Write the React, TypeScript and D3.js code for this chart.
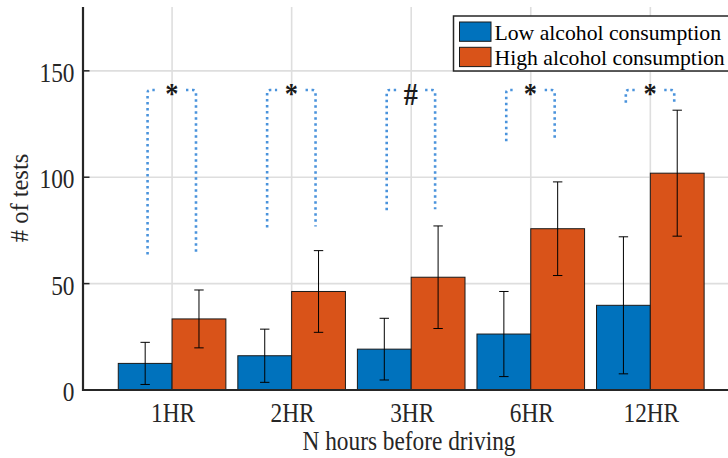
import React from "react";
import * as d3 from "d3";

const categories = ["1HR", "2HR", "3HR", "6HR", "12HR"];
const lowMeans = [12.5, 16.1, 19.2, 26.3, 39.8];
const lowErr = [9.9, 12.5, 14.5, 20.0, 32.2];
const highMeans = [33.4, 46.3, 53.0, 75.8, 101.9];
const highErr = [13.6, 19.2, 24.1, 22.0, 29.6];
const bracketLowEnd = [63.7, 76.4, 84.5, 116.9, 135.0];
const bracketHighEnd = [64.0, 76.8, 85.0, 117.2, 134.0];
const bracketTop = 141;
const sigMarks = ["*", "*", "#", "*", "*"];
const yTicks = [0, 50, 100, 150];
const seriesNames = ["Low alcohol consumption", "High alcohol consumption"];

const W = 728;
const H = 458;
const BLUE = "#0072BD";
const ORANGE = "#D95319";
const AX = "#262626";
const FONT = "'Liberation Serif', 'Times New Roman', serif";

export default function App() {
  const x = d3.scaleLinear().domain([0.255, 5.75]).range([83, 740]);
  const y = d3.scaleLinear().domain([0, 180]).range([390, 7]);
  const bw = 0.45;
  const sx = 0.88;
  const fs = 26.5;

  const bars: JSX.Element[] = [];
  const errs: JSX.Element[] = [];
  categories.forEach((c, i) => {
    const cx = i + 1;
    const series = [
      { m: lowMeans[i], e: lowErr[i], x0: cx - bw, col: BLUE },
      { m: highMeans[i], e: highErr[i], x0: cx, col: ORANGE },
    ];
    series.forEach((s, j) => {
      bars.push(
        <rect
          key={`b${i}-${j}`}
          x={x(s.x0)}
          y={y(s.m)}
          width={x(s.x0 + bw) - x(s.x0)}
          height={y(0) - y(s.m)}
          fill={s.col}
          stroke="#1a1a1a"
          strokeWidth={1}
        />
      );
      const ex = x(s.x0 + bw / 2);
      const top = y(s.m + s.e);
      const bot = y(s.m - s.e);
      errs.push(
        <g key={`e${i}-${j}`} stroke="#000" strokeWidth={1}>
          <line x1={ex} x2={ex} y1={top} y2={bot} />
          <line x1={ex - 4.7} x2={ex + 4.7} y1={top} y2={top} />
          <line x1={ex - 4.7} x2={ex + 4.7} y1={bot} y2={bot} />
        </g>
      );
    });
  });

  const brackets = categories.map((c, i) => {
    const cx = i + 1;
    const L = x(cx - 0.205);
    const R = x(cx + 0.2);
    const yt = y(bracketTop);
    const r = 3;
    const d =
      `M${L},${y(bracketLowEnd[i])} V${yt + r} Q${L},${yt} ${L + r},${yt} H${L + 10}` +
      ` M${R - 10},${yt} H${R - r} Q${R},${yt} ${R},${yt + r} V${y(bracketHighEnd[i])}`;
    const mx = (L + R) / 2;
    const isHash = sigMarks[i] === "#";
    return (
      <g key={`br${i}`}>
        <path d={d} fill="none" stroke="#4a93dc" strokeWidth={2.6} strokeDasharray="2.4 3.6" />
        <text
          transform={`translate(${mx},${isHash ? yt + 15 : yt + 13}) scale(${sx},1)`}
          textAnchor="middle"
          fontSize={isHash ? 32 : 30}
          fontWeight={700}
          fontFamily={FONT}
          fill="#1a1a1a"
        >
          {sigMarks[i]}
        </text>
      </g>
    );
  });

  return (
    <svg
      width={W}
      height={H}
      style={{ position: "absolute", left: 0, top: 0, background: "#fff" }}
    >
      <rect x={0} y={0} width={W} height={H} fill="#fff" />
      <g stroke="#dedede" strokeWidth={1.6}>
        {yTicks.filter((t) => t > 0).map((t) => (
          <line key={`gy${t}`} x1={x(0.255)} x2={740} y1={y(t)} y2={y(t)} />
        ))}
        {categories.map((c, i) => (
          <line key={`gx${i}`} x1={x(i + 1)} x2={x(i + 1)} y1={y(180)} y2={y(0)} />
        ))}
      </g>
      {bars}
      {errs}
      {brackets}
      <line x1={x(0.255)} x2={x(0.255)} y1={y(180)} y2={y(0) + 1} stroke={AX} strokeWidth={2.2} />
      <line x1={x(0.255) - 1} x2={740} y1={y(0)} y2={y(0)} stroke={AX} strokeWidth={2.2} />
      {yTicks.map((t) => (
        <g key={`yt${t}`}>
          <line x1={x(0.255)} x2={x(0.255) + 6.5} y1={y(t)} y2={y(t)} stroke={AX} strokeWidth={1.5} />
          <text
            transform={`translate(${x(0.255) - 8.5},${y(t) + 11}) scale(${sx},1)`}
            textAnchor="end"
            fontSize={fs}
            fontFamily={FONT}
            fill={AX}
          >
            {t}
          </text>
        </g>
      ))}
      {categories.map((c, i) => (
        <text
          key={`xt${i}`}
          transform={`translate(${x(i + 1) + 1},${421.5}) scale(${sx},1)`}
          textAnchor="middle"
          fontSize={fs}
          fontFamily={FONT}
          fill={AX}
        >
          {c}
        </text>
      ))}
      <text
        transform={`translate(${409},${450}) scale(${sx},1)`}
        textAnchor="middle"
        fontSize={fs}
        fontFamily={FONT}
        fill={AX}
      >
        N hours before driving
      </text>
      <text
        transform={`translate(${28},${198}) rotate(-90)`}
        textAnchor="middle"
        fontSize={24.5}
        fontFamily={FONT}
        fill={AX}
      >
        # of tests
      </text>
      <g>
        <rect x={453.5} y={16} width={290} height={55} fill="#fff" stroke={AX} strokeWidth={1.5} />
        {seriesNames.map((s, i) => (
          <g key={`lg${i}`}>
            <rect
              x={459.5}
              y={22 + i * 25.3}
              width={31.5}
              height={19.3}
              fill={i === 0 ? BLUE : ORANGE}
              stroke="#1a1a1a"
              strokeWidth={1}
            />
            <text x={494.5} y={39.5 + i * 25.5} fontSize={21.7} fontFamily={FONT} fill="#000">
              {s}
            </text>
          </g>
        ))}
      </g>
    </svg>
  );
}
